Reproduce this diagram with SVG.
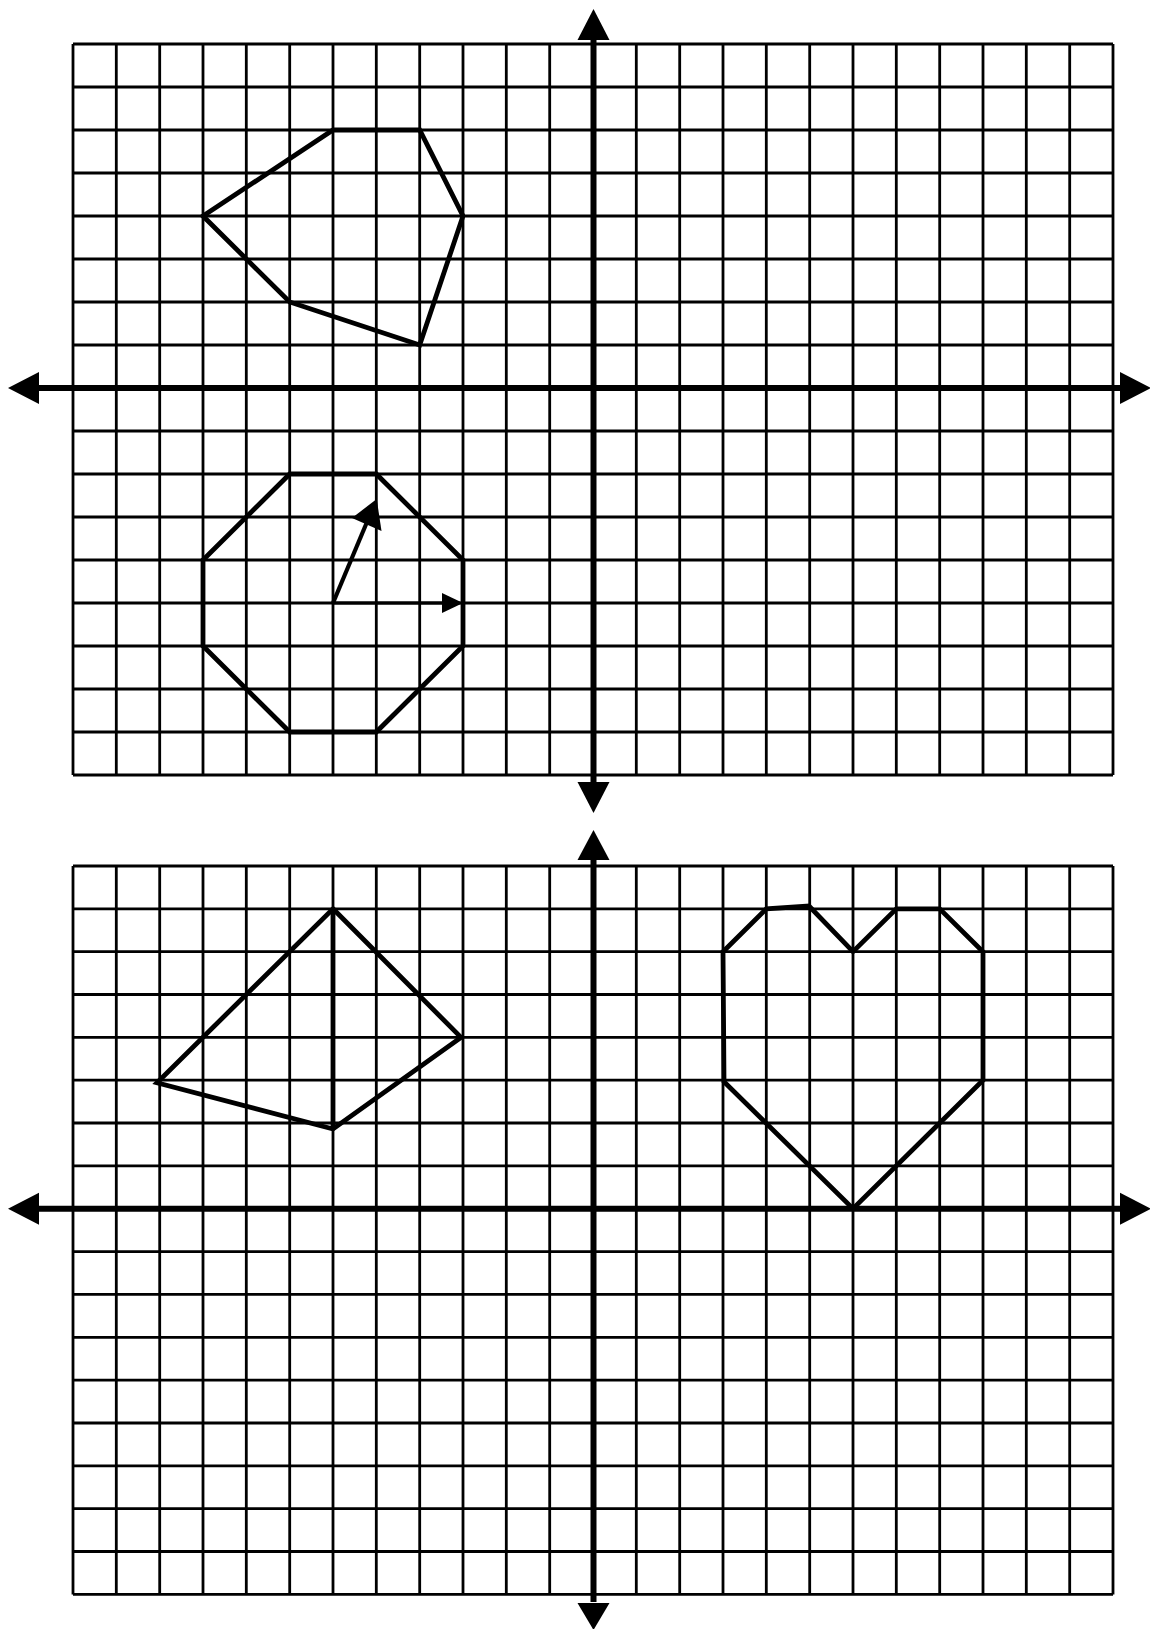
<svg xmlns="http://www.w3.org/2000/svg" width="1150" height="1629" viewBox="0 0 1150 1629">
<style>
.grid{stroke:#000;stroke-width:2.8;fill:none}
.axis{stroke:#000;stroke-width:6;fill:none}
.shape{stroke:#000;stroke-width:4.8;fill:none;stroke-linejoin:miter}
.head{fill:#000;stroke:none}
</style>
<defs>
<path id="gridTop" d="M73 44V775M116.3 44V775M159.7 44V775M203 44V775M246.3 44V775M289.7 44V775M333 44V775M376.3 44V775M419.7 44V775M463 44V775M506.3 44V775M549.7 44V775M636.3 44V775M679.7 44V775M723 44V775M766.3 44V775M809.7 44V775M853 44V775M896.3 44V775M939.7 44V775M983 44V775M1026.3 44V775M1069.7 44V775M1113 44V775M73 44H1113M73 87H1113M73 130H1113M73 173H1113M73 216H1113M73 259H1113M73 302H1113M73 345H1113M73 431H1113M73 474H1113M73 517H1113M73 560H1113M73 603H1113M73 646H1113M73 689H1113M73 732H1113M73 775H1113"/>
</defs>
<g id="grid-top">
<use href="#gridTop" class="grid"/>
</g>
<g id="grid-bottom">
<path class="grid" d="M73 866V1594.4M116.3 866V1594.4M159.7 866V1594.4M203 866V1594.4M246.3 866V1594.4M289.7 866V1594.4M333 866V1594.4M376.3 866V1594.4M419.7 866V1594.4M463 866V1594.4M506.3 866V1594.4M549.7 866V1594.4M636.3 866V1594.4M679.7 866V1594.4M723 866V1594.4M766.3 866V1594.4M809.7 866V1594.4M853 866V1594.4M896.3 866V1594.4M939.7 866V1594.4M983 866V1594.4M1026.3 866V1594.4M1069.7 866V1594.4M1113 866V1594.4M73 866H1113M73 908.8H1113M73 951.7H1113M73 994.5H1113M73 1037.4H1113M73 1080.2H1113M73 1123H1113M73 1165.9H1113M73 1251.6H1113M73 1294.4H1113M73 1337.3H1113M73 1380.1H1113M73 1423H1113M73 1465.8H1113M73 1508.6H1113M73 1551.5H1113M73 1594.4H1113"/>
</g>
<g id="axes">
<path class="axis" d="M36 388H1124M593.5 38V784"/>
<polygon class="head" points="8,388 39,372 39,404"/>
<polygon class="head" points="1151,388 1120,372 1120,404"/>
<polygon class="head" points="593.5,9 577.5,40 609.5,40"/>
<polygon class="head" points="593.5,813 577.5,782 609.5,782"/>
<path class="axis" d="M36 1208.7H1124M593.5 858V1602"/>
<polygon class="head" points="8,1208.7 39,1192.7 39,1224.7"/>
<polygon class="head" points="1151,1208.7 1120,1192.7 1120,1224.7"/>
<polygon class="head" points="593.5,830 577.5,860 609.5,860"/>
<polygon class="head" points="593.5,1630 577.5,1603 609.5,1603"/>
</g>
<g id="hexagon">
<polygon class="shape" points="203,216 333,130 419.7,130 463,216 419.7,345 289.7,302"/>
</g>
<g id="octagon">
<polygon class="shape" points="289.7,474 376.3,474 463,560 463,646 376.3,732 289.7,732 203,646 203,560"/>
</g>
<g id="vectors">
<path d="M333 603L367 522" stroke="#000" stroke-width="4.2" fill="none"/>
<polygon class="head" points="376.7,499 352,518 381.5,531"/>
<path d="M333 603H444" stroke="#000" stroke-width="2.8" fill="none"/>
<polygon class="head" points="442,593 463,603 442,613"/>
</g>
<g id="kite">
<polygon class="shape" points="333,908.8 461,1037.4 333,1129 157,1082.7"/>
<path class="shape" d="M333 908.8V1129"/>
</g>
<g id="heart">
<polygon class="shape" points="724,1081.7 723,951.7 766.3,908.8 809,906 853,951.7 896.3,908.8 939.7,908.8 983,951.7 983,1080.2 853,1208.7"/>
</g>
</svg>
